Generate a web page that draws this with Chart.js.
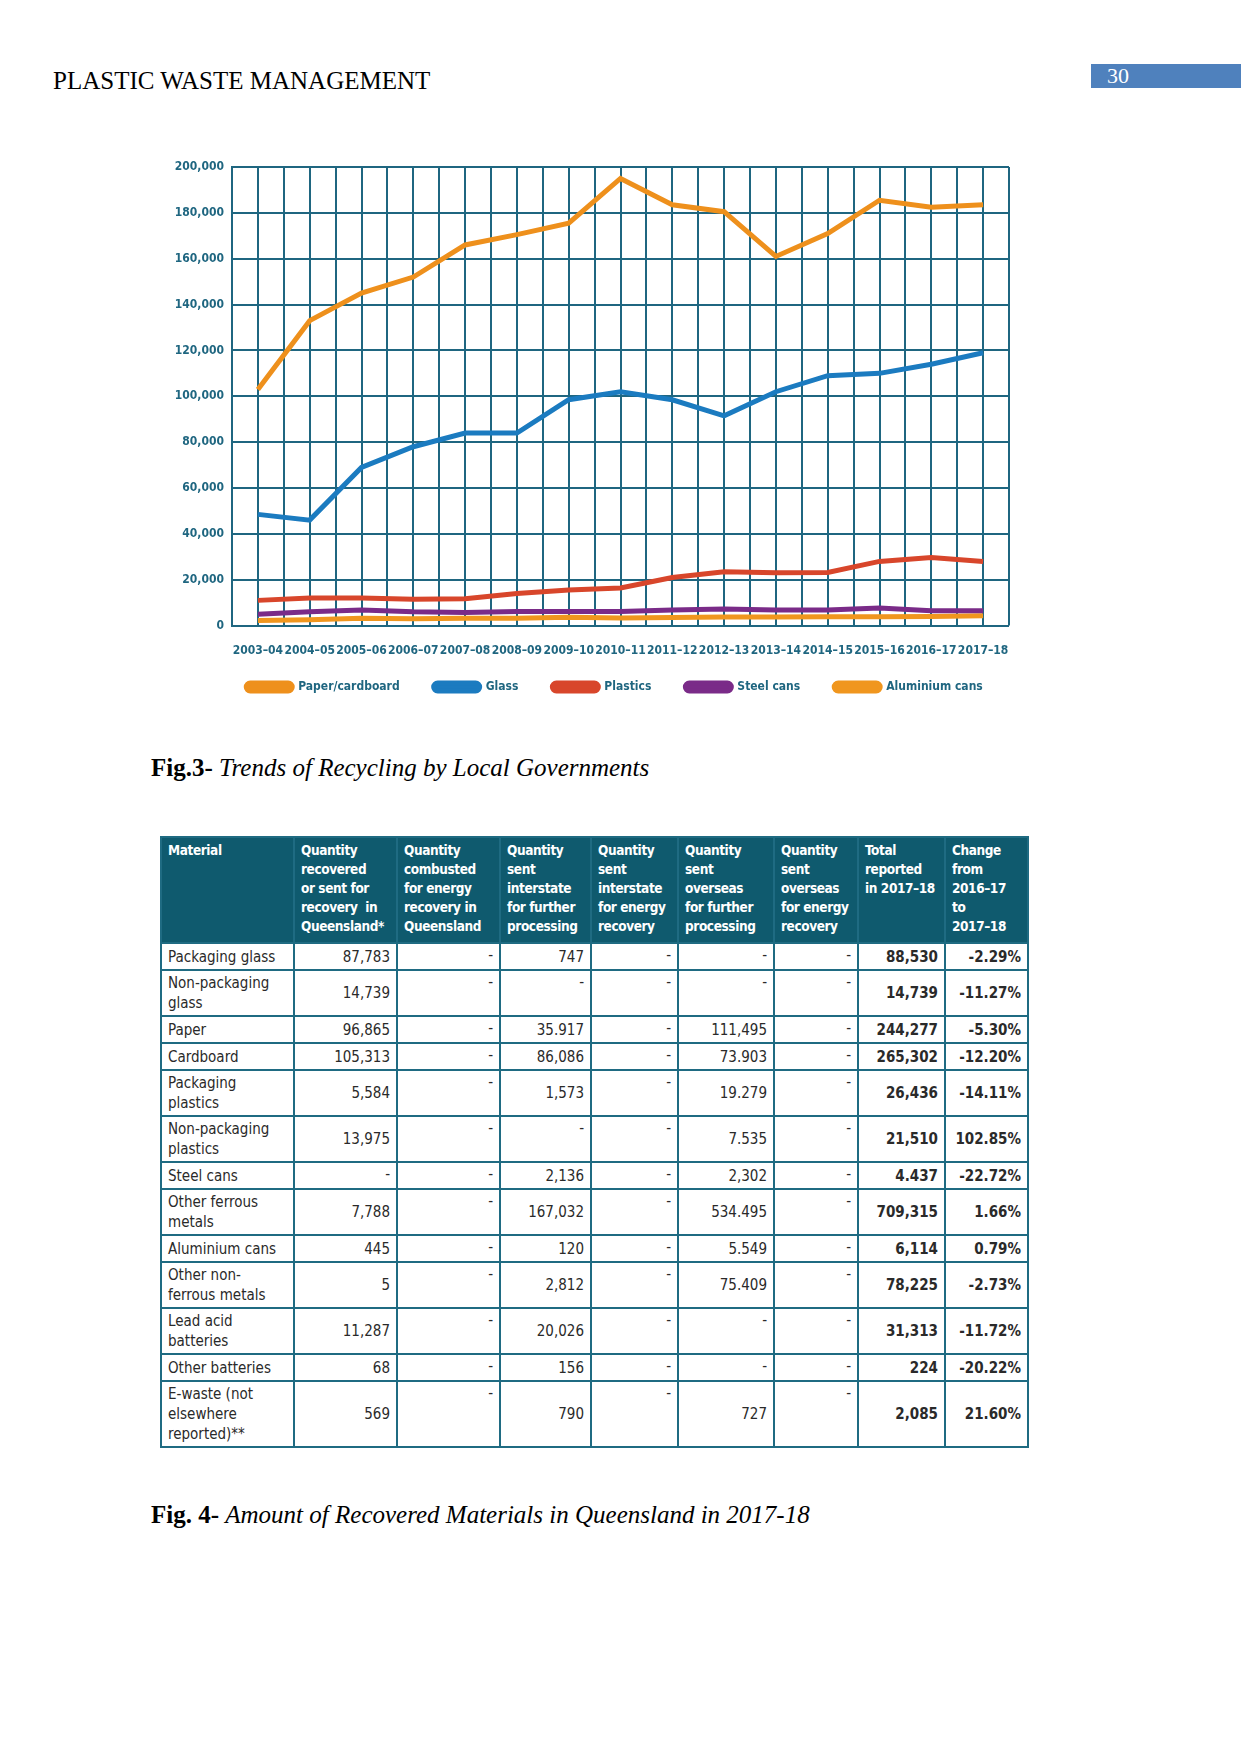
<!DOCTYPE html>
<html>
<head>
<meta charset="utf-8">
<script src="https://cdn.jsdelivr.net/npm/chart.js@4.4.1/dist/chart.umd.min.js"></script>
<style>
  body { margin: 0; width: 1241px; height: 1754px; background: #fff; position: relative; font-family: "Liberation Serif", serif; }
  .runhead { position: absolute; left: 53px; top: 67px; font-size: 25px; color: #000; }
  .pagenum { position: absolute; left: 1091px; top: 64px; width: 150px; height: 24px; background: #4f81bd; color: #fff; font-size: 22px; line-height: 24px; padding-left: 16px; box-sizing: border-box; }
  .chartbox { position: absolute; left: 166px; top: 150px; width: 880px; height: 582px; }
  .caption { position: absolute; left: 151px; font-size: 25px; color: #000; }
  .caption b { font-weight: bold; }
  .caption i { font-style: italic; }
  table { position: absolute; left: 160px; top: 836px; width: 867px; border-collapse: collapse; table-layout: fixed;
          font-family: "DejaVu Sans Condensed", sans-serif; font-size: 15px; color: #2a2a2a; }
  th { background: #0f5a6e; color: #fff; font-weight: bold; text-align: left; vertical-align: top; padding: 3px 6px 5px 6px; line-height: 19px;
       font-size: 13.5px; letter-spacing: -0.4px; white-space: nowrap;
       border: 2px solid #1f6b82; border-left: 2px solid #fff; height: 96px; }
  th:first-child { border-left: 2px solid #1f6b82; }
  td { border: 2px solid #1f6b82; padding: 1px 6px; line-height: 20px; vertical-align: middle; }
  td.num { text-align: right; }
  td.dash { text-align: right; vertical-align: top; }
  td.bold { font-weight: bold; text-align: right; }
</style>
</head>
<body>
<div class="runhead">PLASTIC WASTE MANAGEMENT</div>
<div class="pagenum">30</div>
<div class="chartbox"><canvas id="chartRecycling"></canvas></div>
<div class="caption" style="top:754px"><b>Fig.3-</b> <i>Trends of Recycling by Local Governments</i></div>
<table id="tblMaterials"></table>
<div class="caption" style="top:1501px"><b>Fig. 4-</b> <i>Amount of Recovered Materials in Queensland in 2017-18</i></div>

<script>
// years on the x axis
const years = ["2003–04", "2004–05", "2005–06", "2006–07", "2007–08", "2008–09", "2009–10", "2010–11",
               "2011–12", "2012–13", "2013–14", "2014–15", "2015–16", "2016–17", "2017–18"];

// tonnes recycled
const paperCardboard = [103000, 133000, 145000, 152000, 166000, 170500, 175500, 195000, 183500, 180500, 161000, 171000, 185500, 182500, 183500];
const glass = [48500, 46000, 69000, 78000, 84000, 84000, 98500, 102000, 98500, 91500, 102000, 109000, 110000, 114000, 119000];
const plastics = [11000, 12000, 12000, 11500, 11700, 14000, 15500, 16400, 21000, 23500, 23000, 23200, 28000, 29700, 28000];
const steelCans = [5000, 6000, 6800, 6000, 5700, 6100, 6200, 6200, 6800, 7200, 6800, 6800, 7700, 6500, 6500];
const aluminiumCans = [2200, 2600, 3200, 3000, 3200, 3200, 3600, 3300, 3500, 3800, 3800, 3900, 3900, 4000, 4300];

const yTickStep = 20000;
const yMax = 200000;

// table data (Fig. 4)
const tableHeaders = ["Material",
  "Quantity<br>recovered<br>or sent for<br>recovery&nbsp; in<br>Queensland*",
  "Quantity<br>combusted<br>for energy<br>recovery in<br>Queensland",
  "Quantity<br>sent<br>interstate<br>for further<br>processing",
  "Quantity<br>sent<br>interstate<br>for energy<br>recovery",
  "Quantity<br>sent<br>overseas<br>for further<br>processing",
  "Quantity<br>sent<br>overseas<br>for energy<br>recovery",
  "Total<br>reported<br>in 2017–18",
  "Change<br>from<br>2016–17<br>to<br>2017–18"];
const materials = ["Packaging glass", "Non-packaging<br>glass", "Paper", "Cardboard", "Packaging<br>plastics",
  "Non-packaging<br>plastics", "Steel cans", "Other ferrous<br>metals", "Aluminium cans", "Other non-<br>ferrous metals",
  "Lead acid<br>batteries", "Other batteries", "E-waste (not<br>elsewhere<br>reported)**"];
const recoveredQld = ["87,783", "14,739", "96,865", "105,313", "5,584", "13,975", "-", "7,788", "445", "5", "11,287", "68", "569"];
const combustedQld = ["-", "-", "-", "-", "-", "-", "-", "-", "-", "-", "-", "-", "-"];
const interstateProc = ["747", "-", "35.917", "86,086", "1,573", "-", "2,136", "167,032", "120", "2,812", "20,026", "156", "790"];
const interstateEnergy = ["-", "-", "-", "-", "-", "-", "-", "-", "-", "-", "-", "-", "-"];
const overseasProc = ["-", "-", "111,495", "73.903", "19.279", "7.535", "2,302", "534.495", "5.549", "75.409", "-", "-", "727"];
const overseasEnergy = ["-", "-", "-", "-", "-", "-", "-", "-", "-", "-", "-", "-", "-"];
const totals = ["88,530", "14,739", "244,277", "265,302", "26,436", "21,510", "4.437", "709,315", "6,114", "78,225", "31,313", "224", "2,085"];
const changes = ["-2.29%", "-11.27%", "-5.30%", "-12.20%", "-14.11%", "102.85%", "-22.72%", "1.66%", "0.79%", "-2.73%", "-11.72%", "-20.22%", "21.60%"];

document.addEventListener("DOMContentLoaded", () => {
  // --- table ---
  const colWidths = [133, 103, 103, 91, 87, 96, 84, 87, 83];
  const tbl = document.getElementById("tblMaterials");
  let html = "<colgroup>" + colWidths.map(w => `<col style="width:${w}px">`).join("") + "</colgroup>";
  html += "<tr>" + tableHeaders.map(h => `<th>${h}</th>`).join("") + "</tr>";
  materials.forEach((m, i) => {
    const lines = m.split("<br>").length;
    const h = lines === 1 ? 27 : lines === 2 ? 46 : 66;
    const cell = v => v === "-" ? `<td class="dash">-</td>` : `<td class="num">${v}</td>`;
    html += `<tr style="height:${h}px"><td>${m}</td>` +
      cell(recoveredQld[i]) + cell(combustedQld[i]) + cell(interstateProc[i]) + cell(interstateEnergy[i]) +
      cell(overseasProc[i]) + cell(overseasEnergy[i]) +
      `<td class="bold">${totals[i]}</td><td class="bold">${changes[i]}</td></tr>`;
  });
  tbl.innerHTML = html;

  // --- chart ---
  const teal = "#1f6680";
  const tickFont = { family: "'DejaVu Sans Condensed', sans-serif", size: 12, weight: "bold" };
  const mk = (label, data, color) => ({
    label, data, borderColor: color, backgroundColor: color,
    borderWidth: 5, pointRadius: 0, tension: 0, fill: false,
  });

  // legend sits a bit higher and more to the right than Chart.js puts it
  const legendNudge = {
    id: "legendNudge",
    afterLayout(chart) {
      const lg = chart.legend;
      lg.left += 27; lg.right += 27;
      lg.top -= 29; lg.bottom -= 29;
    },
  };

  new Chart(document.getElementById("chartRecycling"), {
    type: "line",
    data: {
      labels: years,
      datasets: [
        mk("Paper/cardboard", paperCardboard, "#ee901c"),
        mk("Glass", glass, "#1b7bc0"),
        mk("Plastics", plastics, "#d8462b"),
        mk("Steel cans", steelCans, "#7a2b88"),
        mk("Aluminium cans", aluminiumCans, "#f0961e"),
      ],
    },
    plugins: [legendNudge],
    options: {
      responsive: true,
      maintainAspectRatio: false,
      animation: false,
      layout: { padding: { top: 17, right: 37, left: 0, bottom: 0 } },
      plugins: {
        tooltip: { enabled: false },
        legend: {
          position: "bottom",
          labels: {
            color: teal, font: tickFont, boxWidth: 46, boxHeight: 8,
            useBorderRadius: true, borderRadius: 4, padding: 34,
          },
        },
      },
      scales: {
        x: {
          offset: true,
          grid: { color: teal, lineWidth: 2, offset: false, drawTicks: false },
          border: { display: false },
          ticks: { color: teal, font: tickFont, padding: 18, maxRotation: 0, autoSkip: false },
        },
        x2: {
          position: "top",
          offset: true,
          labels: years,
          grid: { color: teal, lineWidth: 2, offset: true, drawTicks: false },
          border: { display: false },
          ticks: { display: false },
          afterFit: s => { s.height = 0; },
        },
        y: {
          min: 0, max: yMax,
          grid: { color: teal, lineWidth: 2, drawTicks: false },
          border: { color: teal, width: 2 },
          ticks: { stepSize: yTickStep, color: teal, font: tickFont, padding: 8,
                   callback: v => v.toLocaleString("en-US") },
          afterFit: s => { s.width = 66; },
        },
      },
    },
  });
});
</script>
</body>
</html>
